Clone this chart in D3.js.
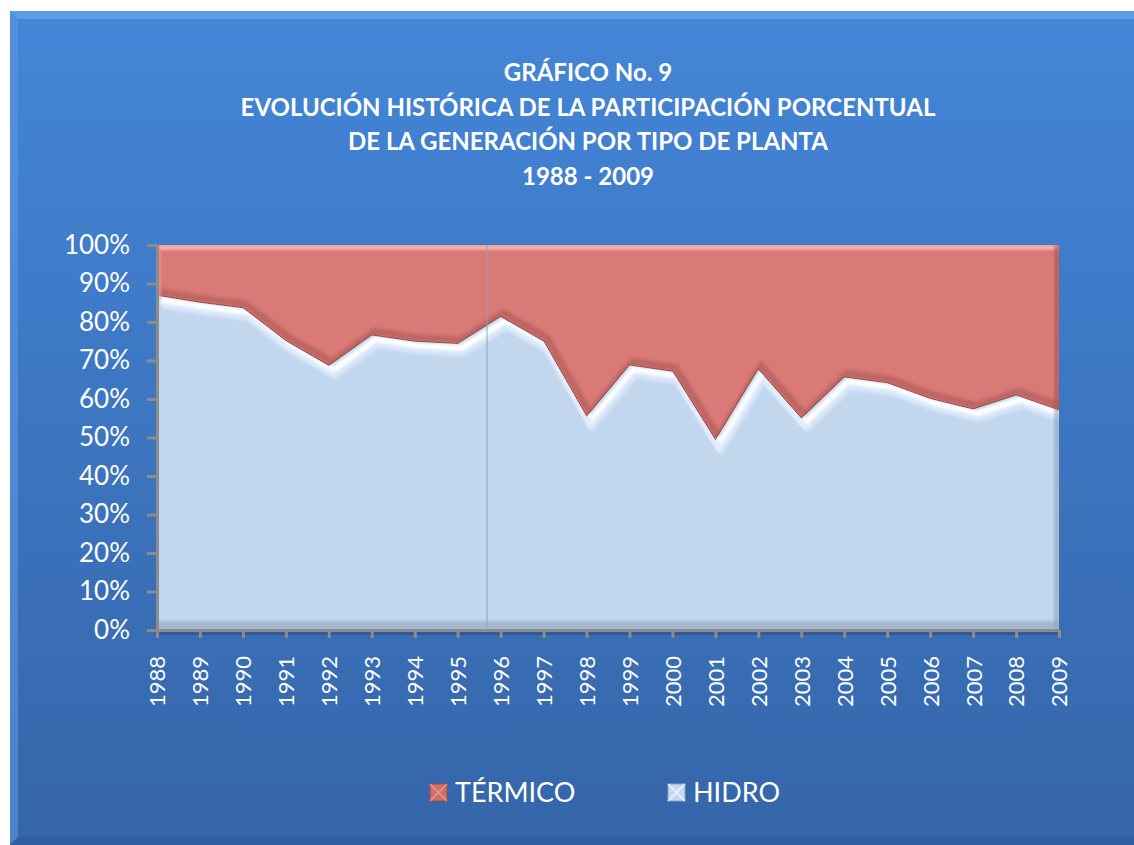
<!DOCTYPE html>
<html>
<head>
<meta charset="utf-8">
<script src="https://cdn.jsdelivr.net/npm/d3@7"></script>
<style>
  body { margin: 0; background: #fff; }
  svg { display: block; font-family: Lato, 'Open Sans', sans-serif; }
</style>
</head>
<body>
<svg width="1134" height="845"></svg>
<script>
// data (percent of generation)
var years = ['1988','1989','1990','1991','1992','1993','1994','1995','1996','1997','1998',
             '1999','2000','2001','2002','2003','2004','2005','2006','2007','2008','2009'];
var hidro = [86.8, 85.0, 83.6, 75.0, 68.6, 76.5, 74.9, 74.3, 81.3, 74.9, 55.3,
             68.7, 67.1, 49.2, 67.6, 54.9, 65.6, 64.1, 60.0, 57.3, 60.9, 57.0];
var termico = [13.2, 15.0, 16.4, 25.0, 31.4, 23.5, 25.1, 25.7, 18.7, 25.1, 44.7,
               31.3, 32.9, 50.8, 32.4, 45.1, 34.4, 35.9, 40.0, 42.7, 39.1, 43.0];
var yTicks = [0, 10, 20, 30, 40, 50, 60, 70, 80, 90, 100];
var titleLines = ['GRÁFICO No. 9',
                  'EVOLUCIÓN HISTÓRICA DE LA PARTICIPACIÓN PORCENTUAL',
                  'DE LA GENERACIÓN POR TIPO DE PLANTA',
                  '1988 - 2009'];
var seriesNames = ['TÉRMICO', 'HIDRO'];

function main() {
    var svg = d3.select('svg');
    var defs = svg.append('defs');

    // background panel gradient
    var bg = defs.append('linearGradient').attr('id', 'bg')
        .attr('x1', 0).attr('y1', 0).attr('x2', 0).attr('y2', 1);
    bg.append('stop').attr('offset', '0%').attr('stop-color', '#4486d8');
    bg.append('stop').attr('offset', '100%').attr('stop-color', '#3565a9');

    var panel = {x: 10, y: 11, w: 1134, h: 834};
    svg.append('rect').attr('x', panel.x).attr('y', panel.y)
        .attr('width', panel.w).attr('height', panel.h).attr('fill', 'url(#bg)');
    // bevel edges
    var b = 8;
    svg.append('path').attr('fill', '#6aa5ea').attr('opacity', 0.7)
        .attr('d', 'M' + panel.x + ',' + panel.y + 'h' + panel.w + 'v' + b +
              'h-' + (panel.w - b) + 'z');
    svg.append('path').attr('fill', '#5a97e2').attr('opacity', 0.6)
        .attr('d', 'M' + panel.x + ',' + panel.y + 'l' + b + ',' + b + 'v' + (panel.h - 2 * b) +
              'l-' + b + ',' + b + 'z');
    svg.append('path').attr('fill', '#2a5592').attr('opacity', 0.5)
        .attr('d', 'M' + panel.x + ',' + (panel.y + panel.h) + 'l' + b + ',-' + b + 'h' + (panel.w - b) +
              'v' + b + 'z');

    // title
    svg.append('g').selectAll('text')
        .data(titleLines).enter().append('text')
        .attr('x', 588)
        .attr('y', function(d, i) { return 81 + i * 34.5; })
        .attr('text-anchor', 'middle')
        .attr('fill', '#fff')
        .style('font-weight', 700)
        .style('font-size', '24px')
        .text(function(d) { return d; });

    var left = 157, right = 1059, top = 245, bottom = 630;

    var xScale = d3.scalePoint().domain(years).range([left, right]);
    var yScale = d3.scaleLinear().domain([0, 100]).range([bottom, top]);

    var data = years.map(function(y, i) { return {year: y, hidro: hidro[i], termico: termico[i]}; });
    var stack = d3.stack().keys(['hidro', 'termico']);
    var layers = stack(data);

    var area = d3.area()
        .x(function(d) { return xScale(d.data.year); })
        .y0(function(d) { return yScale(d[0]); })
        .y1(function(d) { return yScale(d[1]); });
    var topLine = d3.line()
        .x(function(d) { return xScale(d.data.year); })
        .y(function(d) { return yScale(d[1]); });

    var plot = svg.append('g');

    // clip paths for bevel effects
    defs.append('clipPath').attr('id', 'clipHidro')
        .append('path').attr('d', area(layers[0]));
    defs.append('clipPath').attr('id', 'clipTerm')
        .append('path').attr('d', area(layers[1]));

    var blur = defs.append('filter').attr('id', 'soft')
        .attr('x', '-5%').attr('y', '-20%').attr('width', '110%').attr('height', '140%');
    blur.append('feGaussianBlur').attr('stdDeviation', 1.6);

    // TERMICO layer
    plot.append('path').attr('d', area(layers[1])).attr('fill', '#d97a77');
    var gt = plot.append('g').attr('clip-path', 'url(#clipTerm)');
    // shadow just above the boundary
    gt.append('path').attr('d', topLine(layers[0]))
        .attr('transform', 'translate(3,-4)')
        .attr('fill', 'none').attr('stroke', '#b4605d').attr('stroke-width', 7)
        .attr('filter', 'url(#soft)').attr('opacity', 0.75);
    gt.append('path').attr('d', topLine(layers[0]))
        .attr('fill', 'none').attr('stroke', '#9e4a47').attr('stroke-width', 2);
    // top highlight
    gt.append('rect').attr('x', left).attr('y', top).attr('width', right - left).attr('height', 5)
        .attr('fill', '#f7b3b0').attr('filter', 'url(#soft)');
    // right edge shade
    gt.append('rect').attr('x', right - 5).attr('y', top).attr('width', 6).attr('height', bottom - top)
        .attr('fill', '#a9524f').attr('opacity', 0.6).attr('filter', 'url(#soft)');
    // left edge light
    gt.append('rect').attr('x', left).attr('y', top).attr('width', 4).attr('height', bottom - top)
        .attr('fill', '#e79a96').attr('opacity', 0.7).attr('filter', 'url(#soft)');

    // HIDRO layer
    plot.append('path').attr('d', area(layers[0])).attr('fill', '#c2d6ee');
    var gh = plot.append('g').attr('clip-path', 'url(#clipHidro)');
    gh.append('path').attr('d', topLine(layers[0]))
        .attr('transform', 'translate(4,5)')
        .attr('fill', 'none').attr('stroke', '#ffffff').attr('stroke-width', 8)
        .attr('filter', 'url(#soft)');
    gh.append('path').attr('d', topLine(layers[0]))
        .attr('transform', 'translate(6,10)')
        .attr('fill', 'none').attr('stroke', '#d8e8fb').attr('stroke-width', 6)
        .attr('filter', 'url(#soft)').attr('opacity', 0.8);
    // floor shade at the bottom
    gh.append('rect').attr('x', left).attr('y', bottom - 9).attr('width', right - left).attr('height', 9)
        .attr('fill', '#98aac4').attr('opacity', 0.7).attr('filter', 'url(#soft)');
    gh.append('rect').attr('x', right - 5).attr('y', top).attr('width', 6).attr('height', bottom - top)
        .attr('fill', '#8f9fb5').attr('opacity', 0.6).attr('filter', 'url(#soft)');

    // faint vertical line in the plot
    plot.append('line')
        .attr('x1', 487).attr('x2', 487).attr('y1', top).attr('y2', bottom)
        .attr('stroke', '#8aa2c4').attr('stroke-width', 1);

    // dark band under the floor
    svg.append('rect').attr('x', left).attr('y', bottom).attr('width', right - left).attr('height', 5)
        .attr('fill', '#2b4f85').attr('opacity', 0.6);

    // y axis
    var yAxis = svg.append('g')
        .attr('transform', 'translate(' + left + ',0)')
        .call(d3.axisLeft(yScale).tickValues(yTicks).tickSize(10).tickPadding(17)
              .tickFormat(function(d) { return d + '%'; }));
    // x axis
    var xAxis = svg.append('g')
        .attr('transform', 'translate(0,' + bottom + ')')
        .call(d3.axisBottom(xScale).tickSize(8).tickSizeOuter(0));
    xAxis.selectAll('text')
        .attr('transform', 'rotate(-90)')
        .attr('x', -26).attr('y', 0).attr('dy', '0.36em')
        .style('text-anchor', 'end');

    [yAxis, xAxis].forEach(function(ax) {
        ax.select('.domain').attr('stroke', '#8c8c8c').attr('stroke-width', 3);
        ax.selectAll('.tick line').attr('stroke', '#8c8c8c').attr('stroke-width', 3);
        ax.selectAll('text').attr('fill', '#fff').style('font-family', 'Lato, sans-serif');
    });
    yAxis.selectAll('text').style('font-size', '26px');
    xAxis.selectAll('text').style('font-size', '22px');

    // legend
    var legendColors = ['#d16e69', '#c6d9f0'];
    var legendX = [430, 668];
    var lg = svg.append('g').selectAll('g')
        .data(seriesNames).enter().append('g')
        .attr('transform', function(d, i) { return 'translate(' + legendX[i] + ',784)'; });
    lg.append('rect').attr('width', 17).attr('height', 17)
        .attr('fill', function(d, i) { return legendColors[i]; })
        .attr('stroke', function(d, i) { return i ? '#8fa4bf' : '#a34d4a'; }).attr('stroke-width', 1);
    lg.append('path').attr('d', 'M0,0L17,17M17,0L0,17')
        .attr('stroke', function(d, i) { return i ? '#ffffff' : '#f2a6a2'; })
        .attr('stroke-width', 1.2).attr('opacity', 0.8);
    lg.append('text')
        .attr('x', 25).attr('y', 18)
        .attr('fill', '#fff').style('font-size', '27px')
        .text(function(d) { return d; });
}
main();
</script>
</body>
</html>
